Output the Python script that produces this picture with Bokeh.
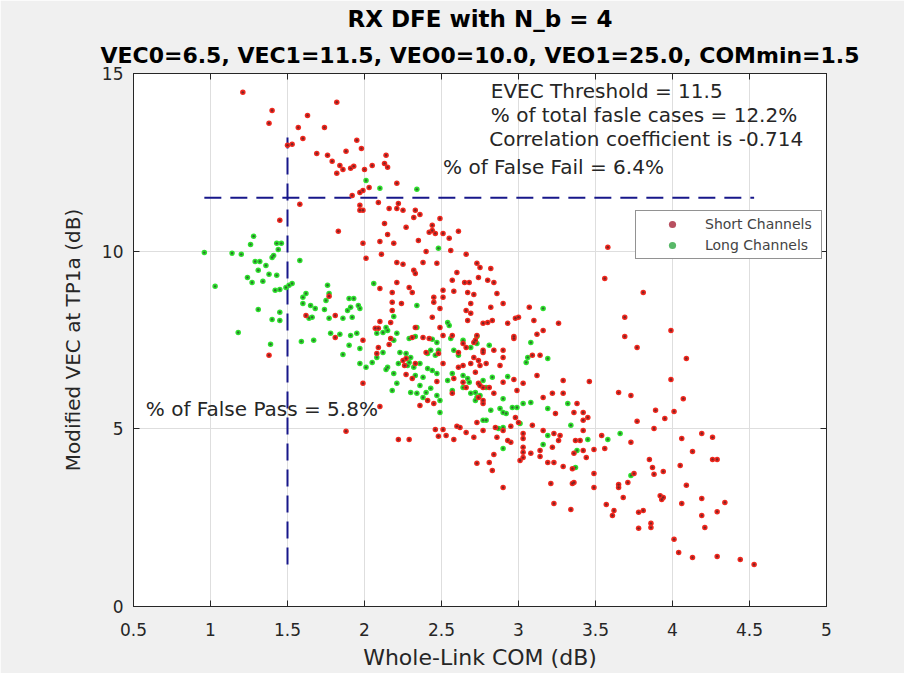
from bokeh.plotting import figure
from bokeh.models import FixedTicker, LinearAxis, Title, Label, Legend, LegendItem
from bokeh.embed import file_html
from bokeh.resources import INLINE

# ---------------- data ----------------
short_x = [1.21, 1.40, 1.38, 1.82, 1.63, 1.57, 1.74, 1.60, 1.53, 1.50, 1.95, 1.98, 1.69, 1.76, 1.88, 1.79,
           1.84, 1.86, 1.82, 1.91, 1.93, 2.00, 2.05, 2.14, 2.13, 2.15, 2.21, 1.99, 2.03, 1.97, 1.92, 1.58,
           1.97, 1.97, 1.99, 2.09, 2.16, 2.21, 2.22, 2.25, 2.33, 2.36, 2.32, 2.49, 1.45, 1.83, 2.13, 2.15,
           2.10, 2.19, 2.27, 2.44, 2.42, 2.46, 2.51, 2.44, 2.35, 2.55, 2.61, 1.99, 2.01, 2.11, 2.21, 2.25,
           2.32, 2.33, 2.40, 2.38, 2.47, 2.56, 2.66, 2.73, 2.21, 2.29, 2.31, 2.57, 2.65, 2.68, 2.74, 2.51,
           2.58, 2.67, 2.45, 2.51, 2.49, 2.45, 2.18, 2.18, 2.18, 2.24, 2.44, 2.49, 2.66, 2.69, 2.67, 1.62,
           1.77, 1.81, 2.10, 2.17, 2.09, 2.07, 2.33, 2.38, 2.31, 2.57, 2.51, 1.38, 2.10, 2.82, 2.80, 2.84,
           2.60, 2.69, 2.82, 2.90, 2.77, 2.80, 2.93, 2.98, 3.00, 3.10, 3.16, 3.26, 3.07, 3.58, 3.56, 3.81,
           3.69, 3.69, 3.99, 2.71, 2.48, 2.64, 2.66, 2.71, 2.09, 2.16, 2.17, 2.40, 2.75, 2.86, 2.83, 3.12,
           2.97, 2.97, 2.72, 2.77, 2.84, 2.90, 2.90, 3.09, 3.14, 1.81, 1.99, 2.08, 2.25, 2.26, 1.99, 2.10,
           1.88, 2.22, 2.29, 2.36, 2.41, 2.45, 2.46, 2.51, 2.48, 2.53, 2.58, 2.60, 2.66, 2.71, 2.73, 2.73,
           2.51, 2.64, 2.69, 2.61, 2.71, 2.73, 2.31, 2.42, 2.27, 2.33, 2.47, 2.62, 2.77, 2.58, 2.64, 2.66,
           2.61, 2.77, 2.74, 2.77, 2.57, 2.27, 2.74, 2.75, 2.79, 2.88, 2.72, 2.90, 2.97, 3.03, 2.75, 2.81,
           2.84, 2.77, 2.77, 2.74, 2.99, 3.12, 3.29, 3.46, 3.16, 3.22, 3.29, 3.38, 3.42, 3.45, 3.36, 3.24,
           2.85, 2.86, 2.90, 2.95, 2.98, 3.00, 3.03, 3.03, 3.09, 3.16, 3.23, 3.27, 3.26, 2.93, 2.95, 3.22,
           3.37, 3.40, 3.42, 3.49, 2.84, 3.03, 3.03, 3.03, 3.14, 3.14, 3.36, 3.44, 3.77, 4.09, 3.99, 4.07,
           4.01, 3.65, 3.73, 3.89, 3.95, 3.88, 3.77, 3.73, 3.54, 3.56, 3.49, 3.49, 3.42, 3.42, 4.06, 4.13,
           4.19, 4.26, 4.26, 4.29, 4.05, 4.09, 3.85, 3.87, 3.94, 3.88, 3.65, 3.65, 3.68, 3.75, 3.71, 3.57,
           3.62, 3.61, 3.78, 3.81, 3.78, 3.86, 3.86, 3.92, 3.94, 3.93, 4.06, 4.19, 4.34, 4.19, 4.29, 4.21,
           4.01, 4.04, 4.13, 4.29, 4.44, 4.53, 3.23, 3.34, 3.21, 3.35, 3.36, 2.90, 2.81, 2.83, 3.19, 3.23,
           3.29, 3.35, 3.01, 3.08]
short_y = [14.47, 13.96, 13.60, 14.19, 13.82, 13.48, 13.48, 13.17, 13.01, 12.98, 13.12, 12.89, 12.75, 12.70, 12.81, 12.53,
           12.41, 12.30, 12.19, 12.33, 12.39, 12.30, 12.41, 12.70, 12.47, 12.36, 11.91, 11.71, 11.79, 11.65, 11.57, 11.32,
           11.29, 11.15, 11.15, 11.37, 11.20, 11.20, 11.34, 11.15, 11.15, 11.03, 10.95, 10.92, 10.87, 10.56, 10.78, 10.47,
           10.27, 10.22, 10.67, 10.73, 10.53, 10.50, 10.50, 10.58, 10.30, 10.36, 10.56, 10.22, 9.80, 9.91, 9.68, 9.63,
           9.46, 9.37, 9.99, 9.68, 9.66, 10.02, 9.91, 9.66, 9.12, 8.98, 8.84, 9.18, 9.12, 9.12, 9.26, 8.90,
           8.87, 8.84, 8.70, 8.70, 8.39, 8.56, 8.84, 8.56, 8.33, 8.53, 8.14, 7.85, 8.33, 8.25, 8.05, 8.19,
           8.73, 8.19, 8.02, 7.99, 7.83, 7.83, 7.85, 7.57, 7.57, 7.63, 7.63, 7.07, 8.95, 9.51, 9.18, 9.12,
           9.40, 8.53, 8.42, 8.53, 7.97, 7.99, 7.97, 8.11, 8.14, 8.05, 7.77, 7.97, 8.42, 10.11, 9.23, 8.84,
           8.14, 7.60, 7.77, 8.78, 7.12, 7.40, 7.29, 7.43, 7.29, 7.37, 7.54, 7.15, 9.54, 8.81, 8.05, 7.66,
           7.60, 7.54, 7.49, 7.21, 7.21, 7.21, 7.01, 7.07, 7.07, 7.57, 7.49, 7.12, 6.92, 6.78, 6.28, 5.63,
           4.93, 4.70, 4.70, 5.66, 5.80, 5.71, 4.98, 4.98, 4.79, 4.81, 4.70, 5.07, 4.90, 4.76, 5.18, 4.03,
           6.84, 6.78, 6.84, 6.73, 7.01, 7.63, 6.42, 7.54, 6.53, 6.84, 6.33, 5.04, 4.95, 6.42, 6.31, 6.16,
           7.15, 7.15, 6.28, 6.16, 6.00, 6.98, 6.92, 6.78, 6.84, 6.78, 6.59, 6.31, 6.39, 6.28, 6.22, 6.16,
           6.00, 5.80, 5.71, 5.88, 6.08, 6.50, 6.36, 6.33, 5.88, 6.00, 6.00, 5.71, 5.46, 5.32, 5.46, 5.43,
           5.04, 4.76, 4.95, 5.07, 5.32, 5.18, 4.73, 4.87, 5.10, 4.95, 4.87, 4.81, 4.67, 4.67, 4.62, 4.48,
           4.67, 4.67, 4.39, 4.42, 4.28, 4.48, 4.34, 4.19, 4.39, 4.22, 4.31, 4.19, 7.29, 6.98, 6.39, 5.85,
           5.49, 6.02, 5.94, 5.52, 5.29, 5.01, 5.21, 4.62, 4.81, 4.45, 3.74, 3.35, 4.95, 5.24, 4.73, 4.36,
           4.87, 4.76, 4.14, 4.14, 3.97, 3.41, 4.14, 3.91, 3.80, 3.72, 3.43, 3.35, 3.07, 3.74, 3.49, 2.87,
           2.70, 2.56, 2.65, 2.70, 2.20, 2.34, 2.22, 3.12, 3.07, 3.01, 2.90, 3.04, 2.93, 2.56, 2.67, 2.22,
           1.89, 1.52, 1.38, 1.41, 1.32, 1.18, 2.90, 2.73, 3.46, 3.46, 3.49, 3.35, 4.05, 3.83, 4.05, 4.05,
           3.94, 3.88, 4.11, 4.31]

long_x = [0.96, 1.03, 1.14, 1.20, 1.28, 1.26, 1.43, 1.46, 1.44, 1.58, 1.29, 1.32, 1.31, 1.36, 1.40, 1.41,
          1.24, 1.27, 1.34, 1.38, 1.43, 1.42, 1.45, 1.49, 1.51, 1.53, 1.31, 1.40, 1.45, 1.45, 1.18, 1.62,
          1.60, 1.60, 1.65, 1.68, 1.66, 1.64, 1.76, 1.77, 1.75, 1.74, 1.77, 1.90, 1.93, 1.91, 1.96, 1.97,
          1.86, 1.92, 1.89, 2.06, 2.19, 2.14, 2.08, 2.12, 2.34, 2.01, 2.10, 2.34, 2.48, 2.54, 3.16, 2.15,
          2.34, 1.39, 1.59, 1.67, 1.78, 1.84, 1.91, 1.95, 1.86, 1.90, 1.97, 1.97, 2.01, 2.05, 2.08, 2.12,
          2.21, 2.19, 2.15, 2.19, 2.21, 2.18, 2.23, 2.27, 2.30, 2.29, 2.28, 2.32, 2.36, 2.41, 2.44, 2.33,
          2.38, 2.47, 2.36, 2.43, 2.30, 2.34, 2.38, 2.47, 2.49, 2.49, 2.54, 2.57, 2.64, 2.64, 2.67, 2.69,
          2.73, 2.43, 2.48, 2.56, 2.47, 2.64, 2.69, 2.73, 2.29, 2.33, 2.44, 2.55, 2.58, 2.61, 2.73, 3.08,
          2.81, 3.06, 3.19, 2.14, 2.22, 2.40, 2.57, 2.68, 2.72, 2.77, 2.77, 2.41, 2.46, 3.05, 2.83, 2.93,
          2.79, 2.72, 2.75, 2.90, 2.82, 2.88, 2.90, 2.92, 2.96, 2.99, 3.08, 3.03, 3.19, 3.32, 2.79, 3.01,
          2.90, 2.87, 3.19, 3.34, 3.45, 3.16, 2.90, 3.38, 3.73, 3.66, 3.58, 3.37]
long_y = [9.96, 9.01, 9.94, 9.91, 10.42, 10.19, 10.22, 10.22, 10.05, 9.74, 9.71, 9.71, 9.46, 9.60, 9.82, 9.88,
          9.26, 9.12, 9.15, 9.35, 9.32, 8.90, 8.92, 8.98, 9.04, 9.09, 8.36, 8.08, 8.05, 8.28, 7.71, 8.81,
          8.70, 8.53, 8.47, 8.39, 8.14, 8.11, 9.04, 8.81, 8.61, 8.36, 8.11, 8.67, 8.67, 8.42, 8.47, 8.39,
          8.11, 8.14, 8.33, 9.09, 8.16, 7.85, 7.69, 7.71, 8.47, 11.99, 11.77, 11.74, 10.08, 7.99, 8.39, 7.77,
          7.85, 7.38, 7.46, 7.49, 7.69, 7.66, 7.63, 7.69, 7.09, 7.35, 7.26, 6.84, 6.73, 6.87, 7.01, 7.15,
          7.69, 7.49, 6.73, 6.56, 6.28, 6.08, 7.15, 7.12, 7.01, 6.87, 6.78, 6.73, 6.84, 6.70, 6.64, 6.50,
          6.45, 6.56, 6.22, 6.14, 6.02, 6.00, 5.88, 5.94, 5.80, 5.46, 6.36, 6.08, 6.50, 6.16, 6.42, 6.00,
          5.88, 7.21, 7.21, 7.54, 7.43, 7.49, 7.29, 7.40, 7.54, 7.60, 7.52, 7.91, 7.21, 7.07, 7.60, 7.43,
          7.35, 7.01, 6.98, 6.67, 6.84, 6.02, 6.56, 6.31, 6.02, 6.36, 5.24, 7.12, 7.07, 6.87, 6.45, 6.47,
          6.16, 5.80, 5.94, 5.85, 5.52, 5.57, 5.46, 5.43, 5.60, 5.60, 5.74, 5.71, 5.57, 5.71, 5.24, 5.15,
          5.04, 5.01, 4.81, 5.10, 4.70, 4.56, 4.45, 4.39, 3.69, 4.87, 4.70, 3.91]

series_names = ["Short Channels", "Long Channels"]
xticks = [0.5, 1, 1.5, 2, 2.5, 3, 3.5, 4, 4.5, 5]
xtick_labels = ["0.5", "1", "1.5", "2", "2.5", "3", "3.5", "4", "4.5", "5"]
yticks = [0, 5, 10, 15]
ytick_labels = ["0", "5", "10", "15"]
vec_threshold = 11.5
com_min = 1.5
vline_top = 13.2
title_line1 = "RX DFE with N_b = 4"
title_line2 = "VEC0=6.5, VEC1=11.5, VEO0=10.0, VEO1=25.0, COMmin=1.5"
notes = ["EVEC Threshold = 11.5", "% of total fasle cases = 12.2%", "Correlation coefficient is -0.714",
         "% of False Fail = 6.4%", "% of False Pass = 5.8%"]
notes_x = [2.82, 2.82, 2.81, 2.51, 0.58]
notes_y = [14.52, 13.82, 13.17, 12.36, 5.57]

FONT = "DejaVu Sans"
TXT = "#262626"
RED = "#f0281e"
RED_CORE = "#7a2424"
GREEN = "#2ee02e"
GREEN_CORE = "#2f6f2f"
LINE_BLUE = "#17178a"

p = figure(frame_width=693, frame_height=533, x_range=(0.5, 5), y_range=(0, 15),
           output_backend="svg", toolbar_location=None,
           min_border_left=133, min_border_right=78, min_border_top=0, min_border_bottom=67,
           background_fill_color="white", border_fill_color="#f0f0f0",
           outline_line_color="#262626", outline_line_width=1)

# axes
for ax, ticks, labels in ((p.xaxis[0], xticks, xtick_labels), (p.yaxis[0], yticks, ytick_labels)):
    ax.ticker = FixedTicker(ticks=ticks)
    ax.major_label_overrides = dict(zip(ticks, labels))
    ax.minor_tick_line_color = None
    ax.major_tick_in = 6
    ax.major_tick_out = 0
    ax.axis_line_color = TXT
    ax.major_tick_line_color = TXT
    ax.major_label_text_font = FONT
    ax.major_label_text_font_size = "17px"
    ax.major_label_text_color = TXT
    ax.axis_label_text_font = FONT
    ax.axis_label_text_font_style = "normal"
    ax.axis_label_text_color = TXT

p.xaxis.axis_label = "Whole-Link COM (dB)"
p.yaxis.axis_label = "Modified VEC at TP1a (dB)"
p.xaxis.axis_label_text_font_size = "22px"
p.yaxis.axis_label_text_font_size = "20px"
p.xaxis.major_label_standoff = 16
p.yaxis.major_label_standoff = 10
p.xaxis.axis_label_standoff = 6
p.yaxis.axis_label_standoff = 14

for loc, ticks in (("above", xticks), ("right", yticks)):
    ax = LinearAxis(ticker=FixedTicker(ticks=ticks), major_label_text_font_size="1px",
                    major_label_text_color=None,
                    minor_tick_line_color=None, major_tick_in=6, major_tick_out=0,
                    axis_line_color=TXT, major_tick_line_color=TXT, major_label_standoff=0)
    p.add_layout(ax, loc)

p.xgrid.ticker = FixedTicker(ticks=xticks)
p.ygrid.ticker = FixedTicker(ticks=yticks)
p.grid.grid_line_color = "#dedede"
p.grid.grid_line_width = 1

# titles (added nearest-first)
p.add_layout(Title(text=title_line2, align="center", text_font=FONT, text_font_size="22px",
                   text_font_style="bold", text_color="black", standoff=12), "above")
p.add_layout(Title(text=title_line1, align="center", text_font=FONT, text_font_size="23px",
                   text_font_style="bold", text_color="black", standoff=6), "above")

# threshold lines
all_x = long_x + short_x
all_y = long_y + short_y
p.line([min(all_x), max(all_x)], [vec_threshold, vec_threshold], line_color=LINE_BLUE,
       line_width=2, line_dash="17 9")
p.line([com_min, com_min], [min(all_y), vline_top], line_color=LINE_BLUE,
       line_width=2, line_dash="17 9")

# small legend markers (drawn under the first point of each series, only shown in the legend)
lg = p.scatter(long_x[:1], long_y[:1], size=3.5, fill_color="#58b868", line_color=None)
lr = p.scatter(short_x[:1], short_y[:1], size=3.5, fill_color="#b85060", line_color=None)

# points
g1 = p.scatter(long_x, long_y, size=5.5, fill_color=GREEN, line_color=None)
g2 = p.scatter(long_x, long_y, size=2.4, fill_color=GREEN_CORE, line_color=None)
r1 = p.scatter(short_x, short_y, size=5.5, fill_color=RED, line_color=None)
r2 = p.scatter(short_x, short_y, size=2.4, fill_color=RED_CORE, line_color=None)

# text notes
for t, x, y in zip(notes, notes_x, notes_y):
    p.add_layout(Label(x=x, y=y, text=t, text_font=FONT, text_font_size="20px",
                       text_color=TXT, text_baseline="middle", text_align="left"))

legend = Legend(items=[LegendItem(label=series_names[0], renderers=[lr]),
                       LegendItem(label=series_names[1], renderers=[lg])],
                location=(502, 347), padding=4, spacing=3, margin=0,
                glyph_width=64, glyph_height=18, label_height=18, label_standoff=1,
                label_width=112,
                label_text_font=FONT, label_text_font_size="14px", label_text_color="#444444",
                border_line_color="#262626", border_line_width=1,
                background_fill_color="white", background_fill_alpha=1)
p.add_layout(legend, "center")

open("out.html", "w").write(file_html(p, INLINE))
